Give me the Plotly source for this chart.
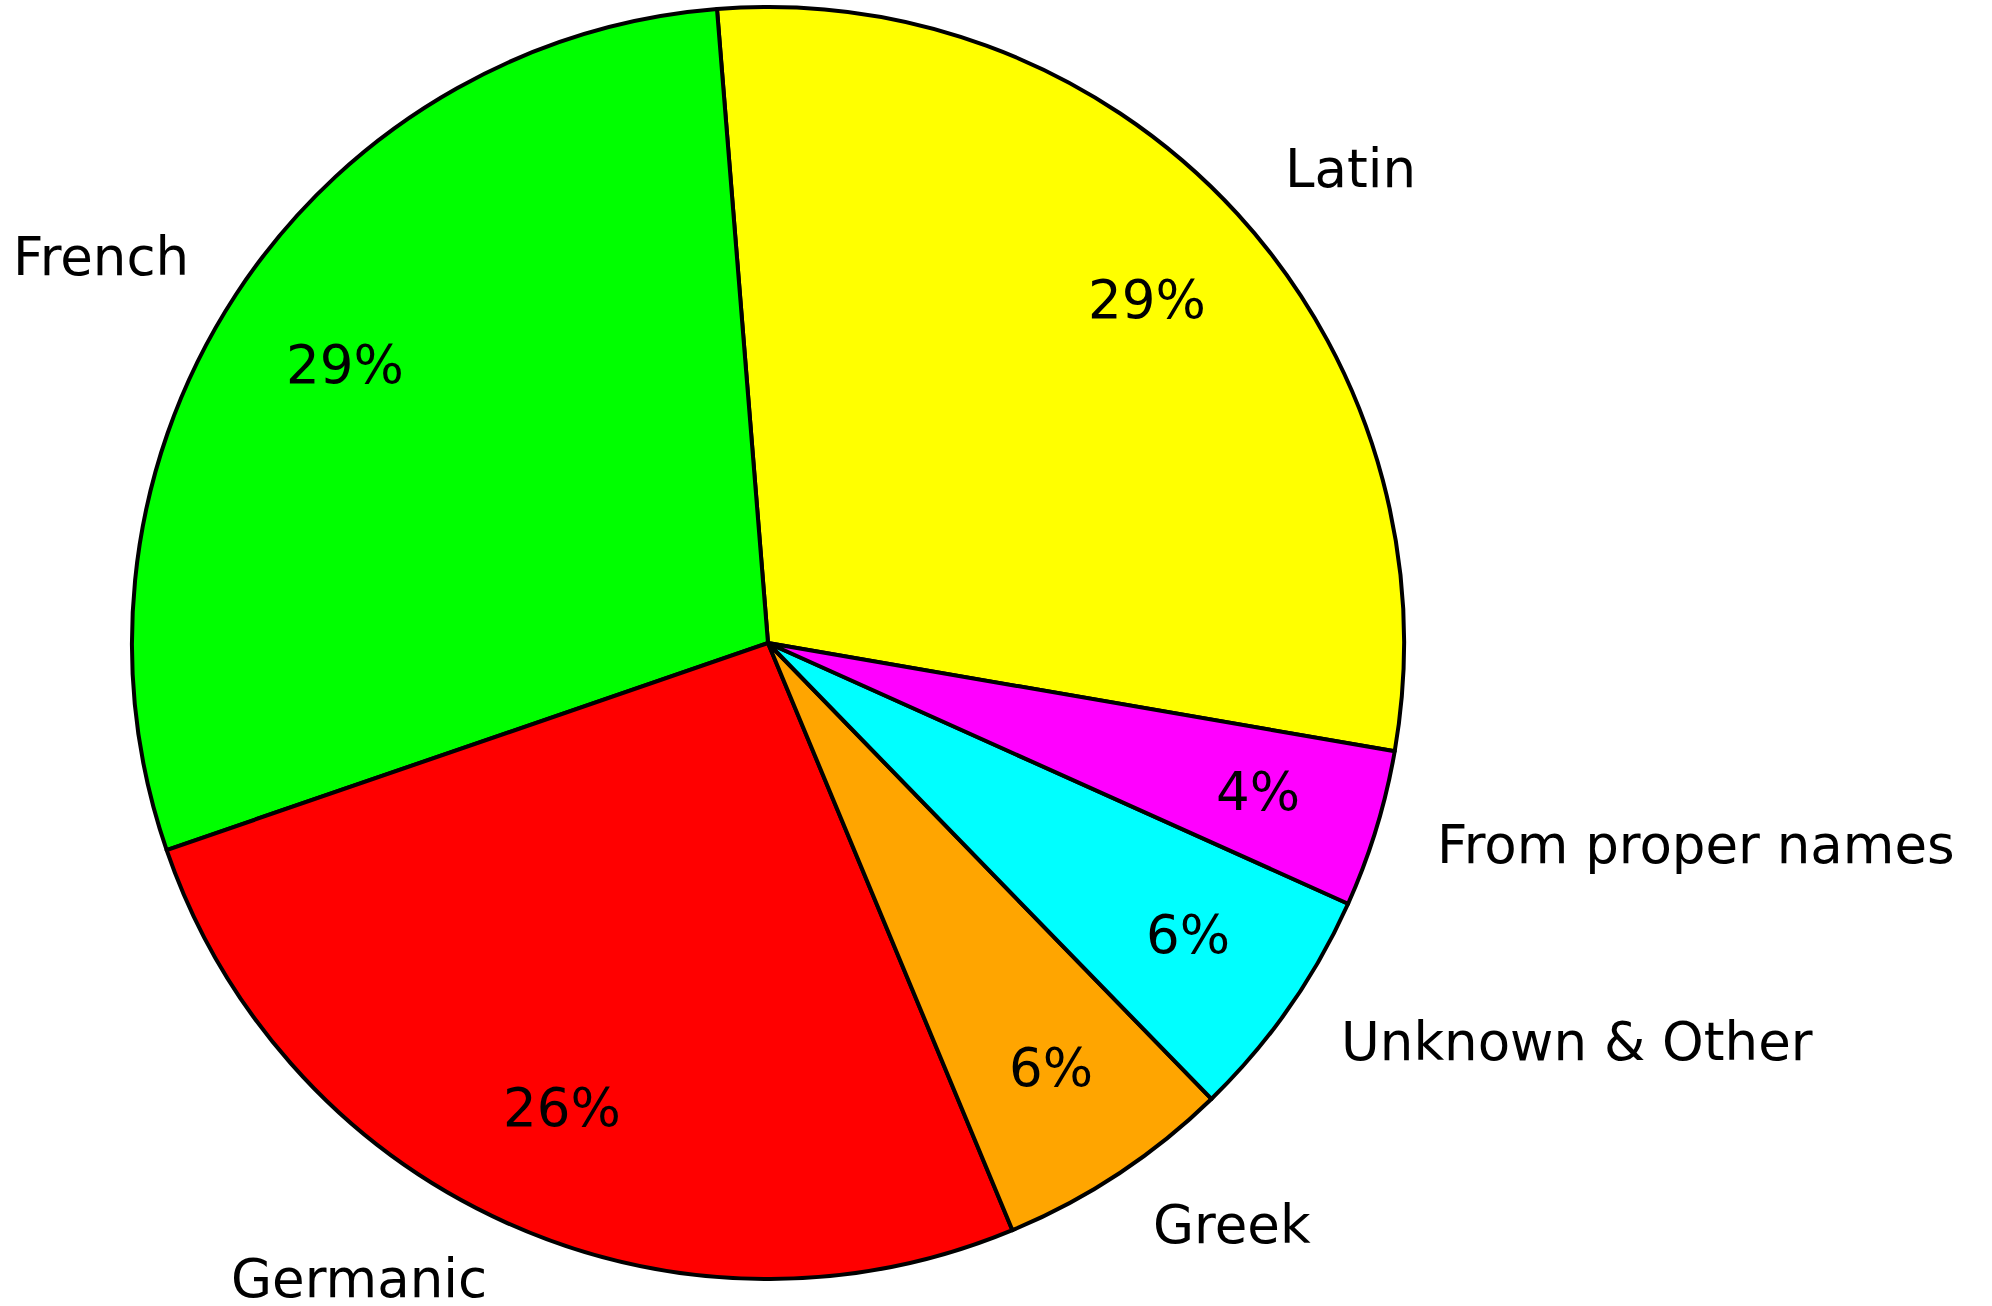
import math
import plotly.graph_objects as go

labels = ["Latin", "French", "Germanic", "Greek", "Unknown & Other", "From proper names"]
values = [29, 29, 26, 6, 6, 4]
colors = ["#ffff00", "#00ff00", "#ff0000", "#ffa500", "#00ffff", "#ff00ff"]

W, H = 1992, 1306
CX, CY, R = 768, 643, 636
START = -9.8  # math angle (deg) where first slice starts, counterclockwise
FONT = dict(family="DejaVu Sans", size=53, color="black")

total = sum(values)
first_end = START + values[0] / total * 360

fig = go.Figure(go.Pie(
    labels=labels, values=values, sort=False,
    direction="counterclockwise", rotation=90 - first_end,
    marker=dict(colors=colors, line=dict(color="black", width=4)),
    textinfo="none", hoverinfo="label+percent", showlegend=False,
    domain=dict(x=[(CX - R) / W, (CX + R) / W],
                y=[(H - CY - R) / H, (H - CY + R) / H]),
))

annotations = []
cum = 0
for lab, v in zip(labels, values):
    mid = math.radians(START + (cum + v / 2) / total * 360)
    cum += v
    c, s = math.cos(mid), math.sin(mid)
    # outer label at 1.1 R
    lx, ly = CX + 1.1 * R * c + (0 if c > 0 else 6), CY - 1.1 * R * s - 3
    annotations.append(dict(
        x=lx / W, y=(H - ly) / H, xref="paper", yref="paper",
        text=lab, showarrow=False, font=FONT, borderpad=0, borderwidth=0,
        xanchor="left" if c > 0 else "right", yanchor="middle"))
    # percentage at 0.8 R
    px, py = CX + 0.8 * R * c + 3, CY - 0.8 * R * s
    annotations.append(dict(
        x=px / W, y=(H - py) / H, xref="paper", yref="paper",
        text=f"{round(v / total * 100)}%", showarrow=False, font=FONT,
        borderpad=0, borderwidth=0,
        xanchor="center", yanchor="middle"))

fig.update_layout(
    width=W, height=H, margin=dict(l=0, r=0, t=0, b=0),
    paper_bgcolor="white", plot_bgcolor="white",
    annotations=annotations,
)
fig.write_html("out.html", config={"displayModeBar": False},
               post_script="document.body.style.margin='0px';document.body.style.overflow='hidden';")
